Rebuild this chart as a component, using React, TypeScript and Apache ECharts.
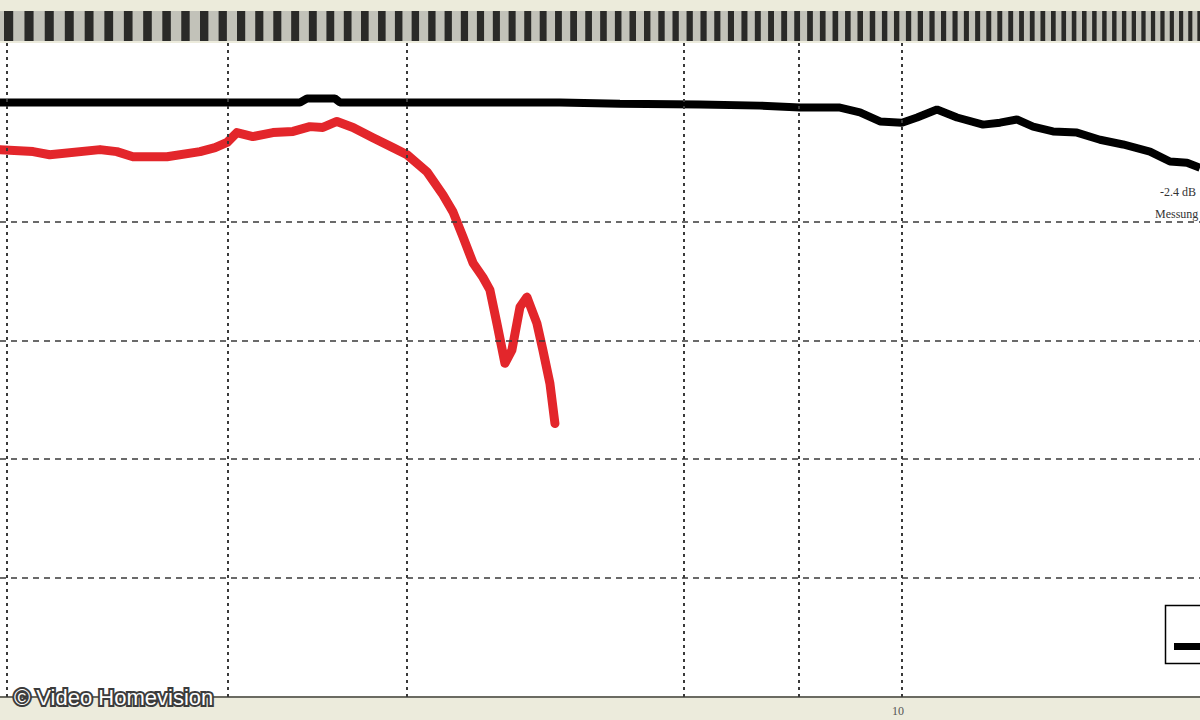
import React, { useEffect, useRef } from "react";
import * as echarts from "echarts";

// Frequency (MHz, log scale) and level (dB)
const redFreq = [0.459, 0.514, 0.544, 0.646, 0.684, 0.723, 0.812, 0.909, 0.957, 0.997, 1.031, 1.089, 1.166, 1.249, 1.323, 1.383, 1.451, 1.533, 1.641, 1.757, 1.844, 1.974, 2.084, 2.157, 2.232, 2.31, 2.389, 2.447, 2.506, 2.576, 2.638, 2.712, 2.777, 2.873, 2.933, 3.004, 3.056];
const redDb = [-1.19, -1.24, -1.32, -1.19, -1.24, -1.37, -1.37, -1.24, -1.14, -1.01, -0.76, -0.86, -0.76, -0.73, -0.61, -0.63, -0.48, -0.63, -0.89, -1.14, -1.32, -1.75, -2.33, -2.76, -3.39, -4.05, -4.41, -4.73, -5.57, -6.58, -6.25, -5.16, -4.91, -5.57, -6.25, -7.09, -8.1];

const blackFreq = [0.459, 0.646, 1.279, 1.31, 1.441, 1.466, 3.109, 3.816, 5.015, 6.156, 7.059, 8.091, 8.663, 9.277, 10, 10.53, 11.27, 12.07, 13.19, 13.98, 14.81, 15.65, 16.75, 18.18, 19.67, 21.28, 23.33, 24.98, 26.48, 27.68];
const blackDb = [0, 0, 0, 0.1, 0.1, 0, 0, -0.03, -0.05, -0.08, -0.13, -0.13, -0.25, -0.48, -0.51, -0.38, -0.18, -0.38, -0.56, -0.51, -0.43, -0.61, -0.73, -0.76, -0.94, -1.06, -1.24, -1.49, -1.52, -1.65];

const xGridFreq = [0.475, 1, 1.84, 4.75, 7.03, 10];
const yGridDb = [-3, -6, -9, -12];
const xMin = 0.459;
const xMax = 27.68;
const yMin = -15;
const yMax = 1.5;

const annotations = ["-2.4 dB", "Messung"];
const xTickLabel = "10";
const watermark = "© Video Homevision";

function stripes() {
  const out: any[] = [
    { type: "rect", shape: { x: 0, y: 0, width: 1200, height: 11 }, style: { fill: "#ecebdb" }, silent: true },
    { type: "rect", shape: { x: 0, y: 11, width: 1200, height: 30 }, style: { fill: "#c2c2b9" }, silent: true },
  ];
  let x = 4;
  while (x < 1200) {
    const p = 20.5 - 11.5 * (x / 1200);
    out.push({
      type: "rect",
      shape: { x: x, y: 11, width: p * 0.45, height: 30 },
      style: { fill: "#2a2a28" },
      silent: true,
    });
    x += p;
  }
  return out;
}

export default function App() {
  const ref = useRef<HTMLDivElement>(null);
  useEffect(() => {
    if (!ref.current) return;
    const chart = echarts.init(ref.current, null, { renderer: "svg" });
    const red = redFreq.map((f, i) => [f, redDb[i]]);
    const black = blackFreq.map((f, i) => [f, blackDb[i]]);
    chart.setOption({
      animation: false,
      backgroundColor: "#ecebdc",
      grid: { left: 0, right: 0, top: 43, bottom: 23, show: true, backgroundColor: "#ffffff", borderWidth: 0 },
      xAxis: {
        type: "log",
        min: xMin,
        max: xMax,
        axisLine: { show: false },
        axisTick: { show: false },
        axisLabel: { show: false },
        splitLine: { show: false },
      },
      yAxis: {
        type: "value",
        min: yMin,
        max: yMax,
        interval: 3,
        axisLine: { show: false },
        axisTick: { show: false },
        axisLabel: { show: false },
        splitLine: { show: false },
      },
      series: [
        {
          type: "line",
          data: [],
          z: 1,
          silent: true,
          markLine: {
            silent: true,
            symbol: "none",
            label: { show: false },
            animation: false,
            data: [
              ...xGridFreq.map((v) => ({ xAxis: v, lineStyle: { color: "#3a3a3a", width: 2, type: [3, 4] } })),
              ...yGridDb.map((v) => ({ yAxis: v, lineStyle: { color: "#3a3a3a", width: 1.5, type: [6, 5] } })),
            ],
          },
        },
        {
          type: "line",
          data: black,
          z: 3,
          symbol: "none",
          lineStyle: { color: "#000000", width: 8 },
        },
        {
          type: "line",
          data: red,
          z: 4,
          symbol: "none",
          lineStyle: { color: "#e3262b", width: 9, join: "round", cap: "round" },
        },
      ],
      graphic: [
        ...stripes(),
        { type: "rect", shape: { x: 0, y: 696, width: 1200, height: 2 }, style: { fill: "#6b6b62" }, silent: true },
        { type: "rect", shape: { x: 1165.5, y: 605.5, width: 60, height: 58 }, style: { fill: "#ffffff", stroke: "#000", lineWidth: 1.5 }, silent: true },
        { type: "rect", shape: { x: 1174, y: 643, width: 40, height: 7 }, style: { fill: "#000" }, silent: true },
        { type: "text", x: 1160, y: 186, style: { text: annotations[0], font: "12px 'Liberation Serif'", fill: "#333" }, silent: true },
        { type: "text", x: 1155, y: 208, style: { text: annotations[1], font: "12px 'Liberation Serif'", fill: "#333" }, silent: true },
        { type: "text", x: 892, y: 705, style: { text: xTickLabel, font: "12px 'Liberation Serif'", fill: "#555" }, silent: true },
        {
          type: "text",
          x: 14,
          y: 686,
          style: {
            text: watermark,
            font: "22px 'Liberation Sans'",
            fill: "#3c3c3c",
            stroke: "#3c3c3c",
            lineWidth: 4,
            shadowColor: "rgba(0,0,0,0.8)",
            shadowBlur: 4,
          },
          silent: true,
        },
        {
          type: "text",
          x: 14,
          y: 686,
          style: {
            text: watermark,
            font: "22px 'Liberation Sans'",
            fill: "#ffffff",
          },
          silent: true,
        },
      ],
    });
    return () => chart.dispose();
  }, []);
  return <div ref={ref} style={{ position: "absolute", left: 0, top: 0, width: 1200, height: 720 }} />;
}
